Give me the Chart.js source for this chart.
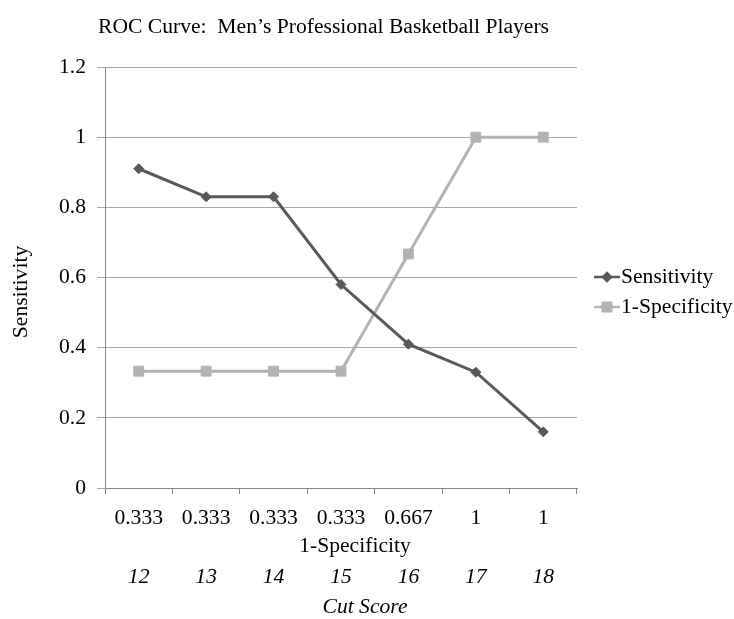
<!DOCTYPE html>
<html><head><meta charset="utf-8">
<script src="https://cdn.jsdelivr.net/npm/chart.js@4/dist/chart.umd.min.js"></script>
<style>html,body{margin:0;padding:0;background:#fff}#wrap{width:734px;height:619px}canvas{display:block}</style>
</head><body><div id="wrap"><canvas id="c" width="734" height="619"></canvas></div>
<script>
// ---- data ----
const specLabels = ['0.333', '0.333', '0.333', '0.333', '0.667', '1', '1'];
const cutScores = ['12', '13', '14', '15', '16', '17', '18'];
const sensitivity = [0.91, 0.83, 0.83, 0.58, 0.41, 0.33, 0.16];
const oneMinusSpecificity = [0.333, 0.333, 0.333, 0.333, 0.667, 1, 1];
const seriesNames = ['Sensitivity', '1-Specificity'];
const chartTitle = 'ROC Curve:  Men\u2019s Professional Basketball Players';
const yTitle = 'Sensitivity';
const xTitle = '1-Specificity';
const x2Title = 'Cut Score';
const yMin = 0, yMax = 1.2, yStep = 0.2;

const SERIF = "'Liberation Serif', 'Times New Roman', serif";
const FS = 21.6;

const extras = {
  id: 'extras',
  afterDraw(chart) {
    const ctx = chart.ctx;
    ctx.save();
    ctx.fillStyle = '#000';
    ctx.textBaseline = 'middle';
    // title
    ctx.font = FS + 'px ' + SERIF;
    ctx.textAlign = 'left';
    ctx.fillText(chartTitle, 98, 27);
    // x titles
    ctx.textAlign = 'center';
    ctx.fillText(xTitle, 355, 546);
    ctx.font = 'italic ' + FS + 'px ' + SERIF;
    ctx.fillText(x2Title, 365, 607);
    // y title
    ctx.font = FS + 'px ' + SERIF;
    ctx.save();
    ctx.translate(21, 292);
    ctx.rotate(-Math.PI / 2);
    ctx.fillText(yTitle, 0, 0);
    ctx.restore();
    // legend
    ctx.textAlign = 'left';
    chart.data.datasets.forEach((ds, i) => {
      const y = 277 + i * 30;
      ctx.strokeStyle = ds.borderColor;
      ctx.lineWidth = 2.5;
      ctx.beginPath();
      ctx.moveTo(594, y);
      ctx.lineTo(620, y);
      ctx.stroke();
      Chart.helpers.drawPoint(ctx, {
        pointStyle: ds.pointStyle, radius: ds.pointRadius - 1, rotation: 0,
        borderWidth: 1
      }, 607, y);
      ctx.fillStyle = ds.backgroundColor;
      ctx.fill();
      ctx.fillStyle = '#000';
      ctx.fillText(ds.label, 621, y);
    });
    ctx.restore();
  }
};

new Chart(document.getElementById('c'), {
  type: 'line',
  data: {
    labels: specLabels,
    datasets: [
      { label: seriesNames[0], data: sensitivity, borderColor: '#595959', backgroundColor: '#595959',
        borderWidth: 3, pointStyle: 'rectRot', pointRadius: 5, pointBorderWidth: 1, tension: 0 },
      { label: seriesNames[1], data: oneMinusSpecificity, borderColor: '#b3b3b3', backgroundColor: '#b3b3b3',
        borderWidth: 3, pointStyle: 'rect', pointRadius: 7, pointBorderWidth: 1, tension: 0 }
    ]
  },
  options: {
    responsive: false, animation: false, devicePixelRatio: 1,
    layout: { padding: { left: 0, top: 67, right: 157, bottom: 0 } },
    plugins: { legend: { display: false }, title: { display: false }, tooltip: { enabled: false } },
    scales: {
      x: {
        type: 'category', offset: true, position: 'bottom', weight: 0,
        grid: { offset: true, drawOnChartArea: false, drawTicks: true, tickLength: 6, color: '#868686' },
        border: { display: true, color: '#868686' },
        ticks: { font: { family: SERIF, size: FS }, color: '#000', padding: 11, maxRotation: 0, autoSkip: false },
        afterFit(s) { s.height = 45; }
      },
      x2: {
        type: 'category', labels: cutScores, offset: true, position: 'bottom', weight: 1,
        grid: { display: false }, border: { display: false },
        ticks: { font: { family: SERIF, size: FS, style: 'italic' }, color: '#000', padding: 23, maxRotation: 0, autoSkip: false },
        afterFit(s) { s.height = 86; }
      },
      y: {
        min: yMin, max: yMax,
        grid: { color: '#a6a6a6', tickLength: 8 },
        border: { display: true, color: '#868686' },
        ticks: { stepSize: yStep, font: { family: SERIF, size: FS }, color: '#000', padding: 11,
                 callback: v => String(Number(v.toFixed(1))) },
        afterFit(s) { s.width = 105; }
      }
    }
  },
  plugins: [extras]
});
</script>
</body></html>
